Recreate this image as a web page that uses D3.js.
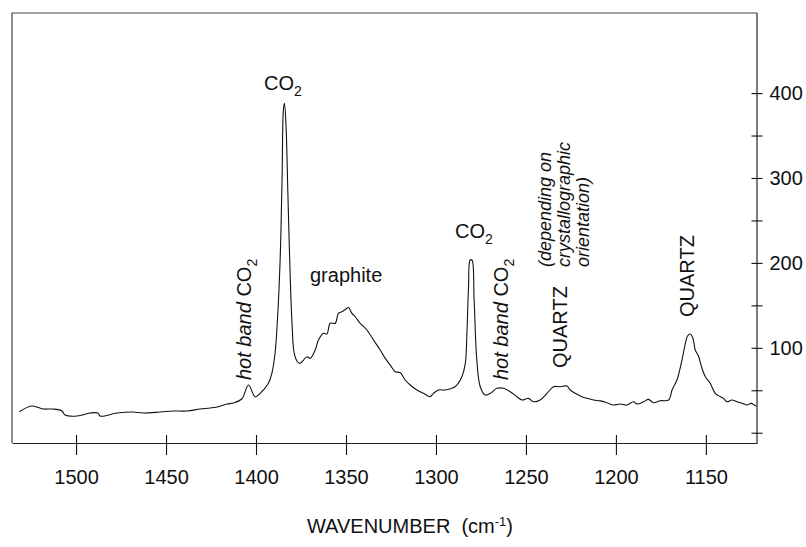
<!DOCTYPE html>
<html>
<head>
<meta charset="utf-8">
<script src="https://cdn.jsdelivr.net/npm/d3@7"></script>
<style>
  body { margin: 0; background: #fff; }
  svg { display: block; font-family: "Liberation Sans", Arial, Helvetica, sans-serif; }
  .pre { white-space: pre; }
</style>
</head>
<body>
<div id="chart"></div>
<script>
const width = 806, height = 547
const margin = {top: 13, right: 49, bottom: 104, left: 12}

// spectrum: wavenumber (cm-1) and intensity
const wavenumber = [1531.5, 1524.6, 1518.3, 1512.8, 1507.8, 1506.1, 1499.4, 1492.2, 1487.8, 1486.7,
  1477.2, 1468.3, 1462.8, 1453.3, 1446.1, 1438.3, 1431.1, 1425.5, 1421.6, 1416.1,
  1412.7, 1407.9, 1404.2, 1400.5, 1397.7, 1393.1, 1391.2, 1389.4, 1388.1, 1386.6,
  1385.5, 1384.8, 1384.2, 1383.3, 1382.3, 1381.0, 1379.9, 1378.8, 1377.0, 1375.5,
  1373.6, 1371.7, 1369.9, 1367.1, 1365.3, 1362.5, 1360.6, 1358.8, 1356.0, 1354.2,
  1352.3, 1349.5, 1348.6, 1346.7, 1344.9, 1342.1, 1338.4, 1334.7, 1331.0, 1328.2,
  1325.4, 1322.7, 1319.9, 1317.1, 1314.3, 1310.6, 1306.9, 1303.2, 1301.4, 1298.6,
  1294.9, 1291.1, 1288.4, 1285.6, 1283.7, 1282.8, 1281.9, 1281.0, 1280.0, 1278.8,
  1277.3, 1275.4, 1272.6, 1269.8, 1266.1, 1262.5, 1258.7, 1255.0, 1252.2, 1248.6,
  1245.8, 1242.1, 1238.3, 1234.7, 1230.9, 1227.2, 1225.4, 1222.6, 1218.9, 1216.1,
  1212.4, 1208.7, 1205.0, 1201.3, 1197.6, 1193.9, 1190.2, 1188.3, 1184.6, 1181.9,
  1179.1, 1175.3, 1170.7, 1168.8, 1166.1, 1163.3, 1161.4, 1160.2, 1158.7, 1157.2,
  1155.9, 1154.0, 1152.2, 1150.3, 1147.6, 1144.8, 1142.0, 1140.2, 1138.3, 1135.5,
  1132.7, 1129.9, 1127.1, 1124.9, 1123.1, 1122.0]
const intensity = [24.7, 31.4, 27.9, 27.9, 25.6, 20.8, 19.7, 23.2, 23.2, 19.7,
  23.2, 24.4, 23.2, 24.4, 25.6, 25.6, 27.9, 29.1, 30.3, 33.8,
  35.0, 39.7, 56.2, 42.4, 46.4, 58.2, 70.0, 93.9, 132.7, 203.4,
  301.5, 380.1, 388.0, 360.4, 282.3, 183.8, 124.9, 93.9, 83.6, 81.7,
  85.6, 89.5, 87.6, 97.4, 109.2, 117.1, 116.3, 128.9, 128.9, 140.6,
  142.5, 146.5, 147.7, 140.6, 136.6, 128.9, 121.0, 109.2, 97.4, 87.6,
  79.7, 71.9, 70.9, 62.1, 56.2, 50.3, 46.4, 42.4, 46.4, 50.3,
  50.3, 52.3, 56.2, 66.0, 81.7, 117.1, 172.0, 203.4, 203.4, 156.3,
  85.6, 54.2, 44.4, 46.4, 52.3, 52.3, 48.3, 42.4, 38.5, 40.5,
  36.5, 38.5, 46.4, 54.2, 54.2, 55.0, 50.3, 46.4, 42.4, 40.5,
  38.5, 37.5, 35.3, 32.6, 33.8, 32.6, 36.5, 33.8, 36.5, 39.3,
  35.3, 37.7, 38.5, 50.3, 62.1, 85.6, 105.3, 113.9, 116.3, 111.2,
  97.4, 89.5, 75.9, 66.0, 58.2, 46.4, 42.4, 40.5, 36.5, 38.5,
  36.5, 34.6, 32.6, 34.6, 32.6, 31.4]

const xTicks = [1500, 1450, 1400, 1350, 1300, 1250, 1200, 1150]
const yTicks = [0, 50, 100, 150, 200, 250, 300, 350, 400]
const yLabels = [100, 200, 300, 400]

const points = wavenumber.map((w, i) => ({w: w, v: intensity[i]}))

const svg = d3.select('#chart').append('svg')
  .attr('width', width)
  .attr('height', height)

svg.append('rect').attr('width', width).attr('height', height).attr('fill', '#fff')

let x = d3.scaleLinear()
  .domain([1535.6, 1121.6])
  .range([margin.left, width - margin.right])

let y = d3.scaleLinear()
  .domain([-12.1, 494.3])
  .range([height - margin.bottom, margin.top])

const x0 = margin.left, x1 = width - margin.right
const y0 = margin.top, y1 = height - margin.bottom

// frame: left and top plain lines
svg.append('path')
  .attr('d', `M${x0},${y1}V${y0}H${x1}`)
  .attr('fill', 'none')
  .attr('stroke', '#444')
  .attr('stroke-width', 1.2)

// bottom axis, ticks crossing the line
const gx = svg.append('g')
  .attr('transform', `translate(0,${y1})`)
  .call(d3.axisBottom(x).tickValues(xTicks).tickSize(12).tickSizeOuter(0).tickPadding(15)
    .tickFormat(d3.format('d')))
gx.select('.domain').attr('stroke', '#222').attr('stroke-width', 1.2)
gx.selectAll('.tick line').attr('y1', -8).attr('stroke', '#111').attr('stroke-width', 1.1)
gx.selectAll('.tick text')
  .attr('font-size', 20)
  .attr('font-family', '"Liberation Sans", Arial, sans-serif')
  .attr('fill', '#111')

// right axis, ticks crossing the line
const gy = svg.append('g')
  .attr('transform', `translate(${x1},0)`)
  .call(d3.axisRight(y).tickValues(yTicks).tickSize(5.5).tickSizeOuter(0).tickPadding(7)
    .tickFormat(d => yLabels.includes(d) ? d : ''))
gy.select('.domain').attr('stroke', '#222').attr('stroke-width', 1.2)
  .attr('d', `M0,${y1}V${y0}`)
gy.selectAll('.tick line').attr('x1', -5.5).attr('stroke', '#111').attr('stroke-width', 1.1)
gy.selectAll('.tick text')
  .attr('font-size', 20)
  .attr('font-family', '"Liberation Sans", Arial, sans-serif')
  .attr('fill', '#111')

// spectrum
let line = d3.line()
  .x(d => x(d.w))
  .y(d => y(d.v))
  .curve(d3.curveCatmullRom.alpha(0.5))

svg.append('path')
  .datum(points)
  .attr('fill', 'none')
  .attr('stroke', '#111')
  .attr('stroke-width', 1.1)
  .attr('stroke-linejoin', 'round')
  .attr('d', line)

// axis title
const title = svg.append('text')
  .attr('class', 'pre')
  .attr('x', 410)
  .attr('y', 533)
  .attr('text-anchor', 'middle')
  .attr('font-size', 20)
  .attr('fill', '#111')
title.append('tspan').text('WAVENUMBER  (cm')
title.append('tspan').attr('dy', -7).attr('font-size', 13).text('-1')
title.append('tspan').attr('dy', 7).text(')')

// annotations
function co2(sel) {
  sel.append('tspan').text('CO')
  sel.append('tspan').attr('dy', 6).attr('font-size', 14).text('2')
}

function label(tx, ty, rotate) {
  return svg.append('text')
    .attr('transform', `translate(${tx},${ty})` + (rotate ? ' rotate(-90)' : ''))
    .attr('font-size', 20)
    .attr('fill', '#111')
}

co2(label(264, 90, false))
co2(label(455, 238, false))
label(310, 282, false).text('graphite')

let hb1 = label(250.5, 380, true)
hb1.append('tspan').attr('font-style', 'italic').text('hot band ')
co2(hb1)

let hb2 = label(508, 380, true)
hb2.append('tspan').attr('font-style', 'italic').text('hot band ')
co2(hb2)

label(566.5, 368, true).text('QUARTZ')
label(694, 317, true).text('QUARTZ')

const noteLines = ['(depending on', 'crystallographic', 'orientation)']
noteLines.forEach((t, i) => {
  svg.append('text')
    .attr('transform', `translate(${551 + i * 19},267) rotate(-90)`)
    .attr('font-size', 18)
    .attr('font-style', 'italic')
    .attr('fill', '#111')
    .text(t)
})
</script>
</body>
</html>
